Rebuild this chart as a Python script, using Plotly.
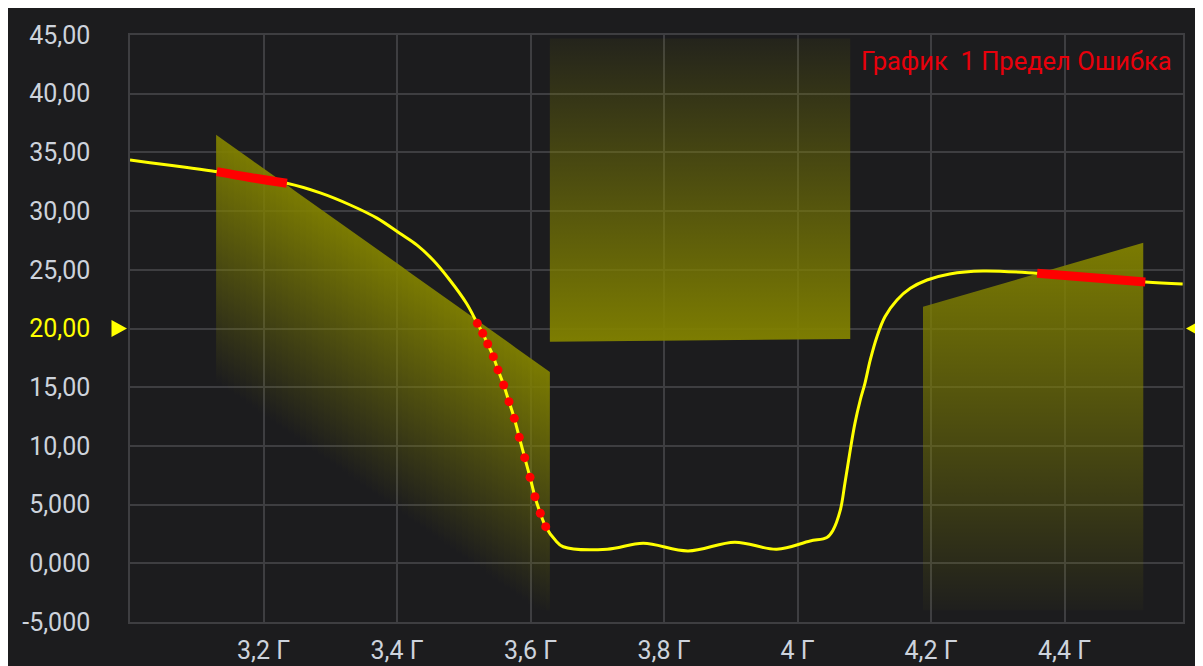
import numpy as np
import plotly.graph_objects as go

# ---------------- data ----------------
curve_x = [3.000, 3.030, 3.080, 3.130, 3.180, 3.235, 3.285, 3.330, 3.370, 3.404, 3.430, 3.454,
           3.479, 3.504,
           3.5203, 3.5284, 3.5359, 3.5443, 3.5513, 3.5598, 3.5678, 3.5757, 3.5832, 3.5913,
           3.5993, 3.6067, 3.6147, 3.6228,
           3.637, 3.649, 3.715, 3.769, 3.836, 3.906, 3.969, 4.019, 4.044, 4.053, 4.064,
           4.071, 4.079, 4.086, 4.094, 4.101, 4.109, 4.119, 4.131, 4.149, 4.169, 4.194,
           4.228, 4.278, 4.359, 4.438, 4.521, 4.577]
curve_y = [34.35, 34.12, 33.75, 33.36, 32.86, 32.37, 31.55, 30.52, 29.40, 28.11, 27.10, 25.83,
           24.13, 22.15,
           20.44, 19.59, 18.68, 17.60, 16.47, 15.19, 13.77, 12.35, 10.73, 9.00,
           7.33, 5.67, 4.26, 3.12,
           1.98, 1.41, 1.20, 1.70, 1.05, 1.80, 1.20, 1.90, 2.20, 2.80, 4.50,
           6.81, 9.65, 11.92, 13.91, 15.33, 17.32, 19.30, 21.00, 22.43, 23.42, 24.13,
           24.65, 24.90, 24.70, 24.34, 23.96, 23.80]

# limit-error segments of the curve (x ranges)
solid_ranges = [(3.130, 3.235), (4.359, 4.521)]
dotted_range = (3.520, 3.623)

# limit mask polygons (x, y vertices)
mask1_x = [3.129, 3.629, 3.629, 3.129]
mask1_y = [36.5, 16.3, -4.0, -4.0]
mask2_x = [3.629, 4.079, 4.079, 3.629]
mask2_y = [44.7, 44.7, 19.1, 18.87]
mask3_x = [4.188, 4.518, 4.518, 4.188]
mask3_y = [21.85, 27.3, -4.0, -4.0]

ref_level = 20.0

x_tickvals = [3.2, 3.4, 3.6, 3.8, 4.0, 4.2, 4.4]
x_ticktext = ["3,2 Г", "3,4 Г", "3,6 Г", "3,8 Г", "4 Г", "4,2 Г", "4,4 Г"]
y_tickvals = [-5, 0, 5, 10, 15, 20, 25, 30, 35, 40, 45]
y_ticktext = ["-5,000", "0,000", "5,000", "10,00", "15,00", "20,00",
              "25,00", "30,00", "35,00", "40,00", "45,00"]
legend_text = "График\u00a0 1 Предел Ошибка"

# ---------------- styling ----------------
OFF = 8                       # page body margin
W, H = 1203 - OFF, 666 - OFF  # figure size
PL, PR, PT, PB = 130, 1183, 35, 622   # plot area in page pixels
ML, MT = PL - OFF, PT - OFF
MR, MB = W - (PR - OFF), H - (PB - OFF)
XR = [3.0, 4.5775]
YR = [-5, 45]
BG = "#1c1c1e"
GRID = "#3e3e41"
TICK = "#cdd3dc"
OLIVE = "128,128,0"
FONT = "Roboto"

pw = PR - PL
ph = PB - PT
def x2px(x):
    return (x - XR[0]) / (XR[1] - XR[0]) * pw
def px2x(p):
    return XR[0] + p / pw * (XR[1] - XR[0])
def yp(py):  # page px -> paper y
    return (PB - py) / ph
def xp(px):
    return (px - PL) / pw
def yv2p(v):  # data y -> paper y
    return (v - YR[0]) / (YR[1] - YR[0])

fig = go.Figure()

# mask 1: diagonal fade, built from pixel-aligned vertical strips
x_left, x_right = mask1_x[0], mask1_x[1]
top_l, top_r = mask1_y[0], mask1_y[1]
bottom = mask1_y[2]
def top1(x):
    return top_l + (x - x_left) * (top_r - top_l) / (x_right - x_left)
p0 = x2px(x_left)
p1 = x2px(x_right)
bounds = [x_left] + [px2x(p) for p in np.arange(np.ceil(p0) + 5, p1 - 2, 6)] + [x_right]
fade = 21.0
for a, b in zip(bounds[:-1], bounds[1:]):
    tm = top1(0.5 * (a + b))
    fig.add_trace(go.Scatter(
        x=[a, a, b, b, a], y=[bottom, top1(a), top1(b), bottom, bottom],
        mode="lines", line=dict(width=0), fill="toself",
        fillgradient=dict(type="vertical", start=tm - fade, stop=tm,
                          colorscale=[[0, f"rgba({OLIVE},0)"], [1, f"rgba({OLIVE},0.95)"]]),
        hoverinfo="skip", showlegend=False))

# mask 2: rectangle, opaque at the bottom, fading upward
fig.add_trace(go.Scatter(
    x=mask2_x + [mask2_x[0]], y=mask2_y + [mask2_y[0]],
    mode="lines", line=dict(width=0), fill="toself",
    fillgradient=dict(type="vertical", start=min(mask2_y), stop=max(mask2_y),
                      colorscale=[[0, f"rgba({OLIVE},0.97)"], [1, f"rgba({OLIVE},0.08)"]]),
    hoverinfo="skip", showlegend=False))

# mask 3: right polygon, fading downward
fig.add_trace(go.Scatter(
    x=mask3_x + [mask3_x[0]], y=mask3_y + [mask3_y[0]],
    mode="lines", line=dict(width=0), fill="toself",
    fillgradient=dict(type="vertical", start=min(mask3_y), stop=max(mask3_y),
                      colorscale=[[0, f"rgba({OLIVE},0.03)"], [1, f"rgba({OLIVE},0.95)"]]),
    hoverinfo="skip", showlegend=False))

# main curve
fig.add_trace(go.Scatter(x=curve_x, y=curve_y, mode="lines",
                         line=dict(color="#ffff00", width=3, shape="spline", smoothing=1.0),
                         hoverinfo="skip", showlegend=False))

cx = np.array(curve_x)
cy = np.array(curve_y)
for lo, hi in solid_ranges:
    m = (cx >= lo - 1e-6) & (cx <= hi + 1e-6)
    fig.add_trace(go.Scatter(x=cx[m], y=cy[m], mode="lines",
                             line=dict(color="#ff0000", width=9, shape="spline"),
                             hoverinfo="skip", showlegend=False))
m = (cx >= dotted_range[0] - 1e-6) & (cx <= dotted_range[1] + 1e-6)
fig.add_trace(go.Scatter(x=cx[m], y=cy[m], mode="markers",
                         marker=dict(color="#ff0000", size=9, line=dict(width=0)),
                         hoverinfo="skip", showlegend=False))

# tick labels (20,00 highlighted)
y_text = [f'<span style="color:#ffff00">{t}</span>' if v == ref_level else t
          for v, t in zip(y_tickvals, y_ticktext)]

# reference-level markers outside the plot area (paper coordinates)
yc = yv2p(ref_level)
dh = 8.5 / ph
shapes = [
    dict(type="path", xref="paper", yref="paper",
         path=f"M {xp(111.5)},{yc + dh} L {xp(127)},{yc} L {xp(111.5)},{yc - dh} Z",
         fillcolor="#ffff00", line=dict(width=0)),
    dict(type="path", xref="paper", yref="paper",
         path=f"M {xp(1201.5)},{yc + dh} L {xp(1186)},{yc} L {xp(1201.5)},{yc - dh} Z",
         fillcolor="#ffff00", line=dict(width=0)),
]

fig.update_layout(
    width=W, height=H,
    margin=dict(l=ML, r=MR, t=MT, b=MB, pad=0, autoexpand=False),
    paper_bgcolor=BG, plot_bgcolor=BG,
    font=dict(family=FONT, size=25, color=TICK),
    showlegend=False,
    shapes=shapes,
    annotations=[dict(text=legend_text, xref="paper", yref="paper",
                      x=xp(1174), y=yp(61), xanchor="right", yanchor="middle",
                      showarrow=False, font=dict(family=FONT, size=25.5, color="#e8000b"))],
    xaxis=dict(range=XR, tickvals=x_tickvals, ticktext=x_ticktext,
               showgrid=True, gridcolor=GRID, gridwidth=1.5, zeroline=False,
               showline=True, linecolor=GRID, linewidth=1.5, mirror=True,
               ticks="", ticklabelstandoff=5, automargin=False,
               tickfont=dict(family=FONT, size=25, color=TICK)),
    yaxis=dict(range=YR, tickvals=y_tickvals, ticktext=y_text,
               showgrid=True, gridcolor=GRID, gridwidth=1.5, zeroline=False,
               showline=True, linecolor=GRID, linewidth=1.5, mirror=True,
               ticks="", ticklabelstandoff=33, automargin=False,
               tickfont=dict(family=FONT, size=25, color=TICK)),
)

# hide page scrollbars so the figure's right edge stays visible
fig.write_html("out.html",
               post_script="document.documentElement.style.overflow='hidden';"
                           "document.body.style.overflow='hidden';")
